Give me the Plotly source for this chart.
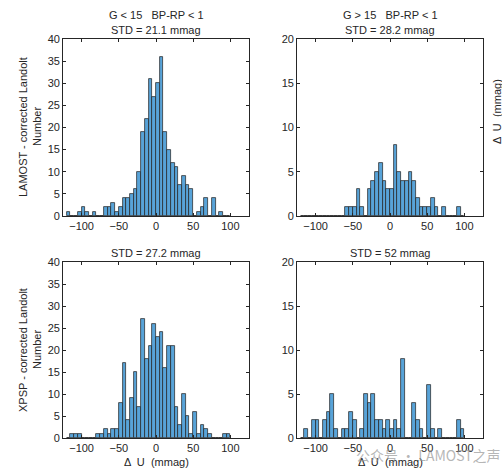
import plotly.graph_objects as go

# bin left edges, 5 mmag wide, from -120 to 95
bin_left = [-120, -115, -110, -105, -100, -95, -90, -85, -80, -75, -70, -65,
            -60, -55, -50, -45, -40, -35, -30, -25, -20, -15, -10, -5,
            0, 5, 10, 15, 20, 25, 30, 35, 40, 45, 50, 55, 60, 65, 70, 75,
            80, 85, 90, 95]

# G<15 LAMOST
n_lamost_bright = [1, 0, 0, 1, 2, 1, 0, 1, 0, 0, 2, 2,
                   3, 1, 2, 4, 4, 5, 6, 10, 19, 22, 31, 27,
                   30, 36, 19, 15, 12, 11, 7, 9, 7, 6, 0, 1, 2, 4, 0, 4,
                   0, 1, 0, 0]
# G>15 LAMOST
n_lamost_faint = [0, 0, 0, 0, 0, 0, 0, 0, 0, 0, 0, 0,
                  1, 1, 1, 3, 1, 0, 3, 4, 5, 6, 4, 3,
                  3, 8, 5, 4, 4, 5, 4, 2, 1, 1, 1, 2, 1, 0, 1, 0,
                  0, 0, 1, 0]
# G<15 XPSP
n_xpsp_bright = [0, 1, 1, 1, 0, 0, 0, 0, 1, 1, 2, 1,
                 2, 2, 8, 17, 4, 9, 15, 7, 27, 18, 21, 26,
                 23, 24, 16, 21, 21, 7, 3, 10, 5, 1, 6, 1, 3, 2, 1, 0,
                 0, 0, 1, 1]
# G>15 XPSP
n_xpsp_faint = [0, 1, 0, 2, 2, 0, 2, 3, 5, 1, 0, 1,
                1, 3, 2, 0, 1, 5, 4, 5, 2, 2, 1, 2,
                1, 2, 1, 9, 0, 0, 4, 2, 1, 0, 6, 1, 0, 1, 0, 0,
                0, 0, 2, 1]

titles = [["G < 15   BP-RP < 1", "STD = 21.1 mmag"],
          ["G > 15   BP-RP < 1", "STD = 28.2 mmag"],
          ["STD = 27.2 mmag"],
          ["STD = 52 mmag"]]
ymax = [40, 20, 40, 20]
xticks = [-100, -50, 0, 50, 100]

W, H = 502, 476
txt = "#262626"
face = "rgb(88,163,216)"
font = "Liberation Sans, Arial, sans-serif"

# panel boxes in pixels: x0, x1, ytop, ybottom
boxes = [(63, 249, 39, 216), (297, 483, 39, 216),
         (63, 249, 262, 438), (297, 483, 262, 438)]
counts = [n_lamost_bright, n_lamost_faint, n_xpsp_bright, n_xpsp_faint]
centers = [b + 2.5 for b in bin_left]


def label(text, xpx, ypx, angle=0, size=11, color=txt, family=font):
    return dict(text=text, x=xpx / W, y=1 - ypx / H, xref="paper", yref="paper",
                showarrow=False, xanchor="center", yanchor="middle",
                textangle=angle, font=dict(size=size, color=color, family=family))


fig = go.Figure()
layout = dict(width=W, height=H, margin=dict(l=0, r=0, t=0, b=0, autoexpand=False),
              paper_bgcolor="white", plot_bgcolor="white", showlegend=False,
              bargap=0, font=dict(family=font, size=11, color=txt))
ann = []
for i, (box, c) in enumerate(zip(boxes, counts)):
    x0, x1, yt, yb = box
    xa = "xaxis" if i == 0 else "xaxis%d" % (i + 1)
    ya = "yaxis" if i == 0 else "yaxis%d" % (i + 1)
    sx = "x" if i == 0 else "x%d" % (i + 1)
    sy = "y" if i == 0 else "y%d" % (i + 1)
    fig.add_trace(go.Bar(x=centers, y=c, width=5, xaxis=sx, yaxis=sy,
                         marker=dict(color=face,
                                     line=dict(color="rgba(35,35,35,0.9)", width=0.8)),
                         hoverinfo="x+y"))
    layout[xa] = dict(domain=[x0 / W, x1 / W], anchor=sy, range=[-125, 125],
                      tickvals=xticks, ticks="inside", ticklen=3, automargin=False,
                      tickcolor=txt, showline=True, linecolor=txt, linewidth=0.8,
                      mirror="ticks", showgrid=False, zeroline=False,
                      tickfont=dict(size=11, color=txt))
    layout[ya] = dict(domain=[1 - yb / H, 1 - yt / H], anchor=sx, automargin=False,
                      range=[0, ymax[i]], dtick=5, ticks="inside", ticklen=3,
                      tickcolor=txt, showline=True, linecolor=txt, linewidth=0.8,
                      mirror="ticks", showgrid=False, zeroline=False,
                      tickfont=dict(size=11, color=txt))
    lines = titles[i]
    for k, t in enumerate(lines):
        ann.append(label(t, (x0 + x1) / 2, yt - 9 - 15 * (len(lines) - 1 - k)))

# axis labels
for ytop, name in [(39, "LAMOST - corrected Landolt"), (262, "XPSP - corrected Landolt")]:
    ann.append(label(name, 23, ytop + 88, angle=-90))
    ann.append(label("Number", 37, ytop + 88, angle=-90))
for cx in [156, 390]:
    ann.append(label("Δ  U  (mmag)", cx, 462))
ann.append(label("Δ  U  (mmag)", 497, 112, angle=-90))
# watermark
ann.append(label("公众号 · LAMOST之声", 428, 455, size=14,
                 color="rgba(150,150,150,0.7)", family="Noto Sans CJK SC"))
layout["annotations"] = ann
fig.update_layout(**layout)
# drop the browser's default page margin so the figure sits at the corner
fig.write_html("out.html", config={"displayModeBar": False},
               post_script="document.body.style.margin='0px';")
